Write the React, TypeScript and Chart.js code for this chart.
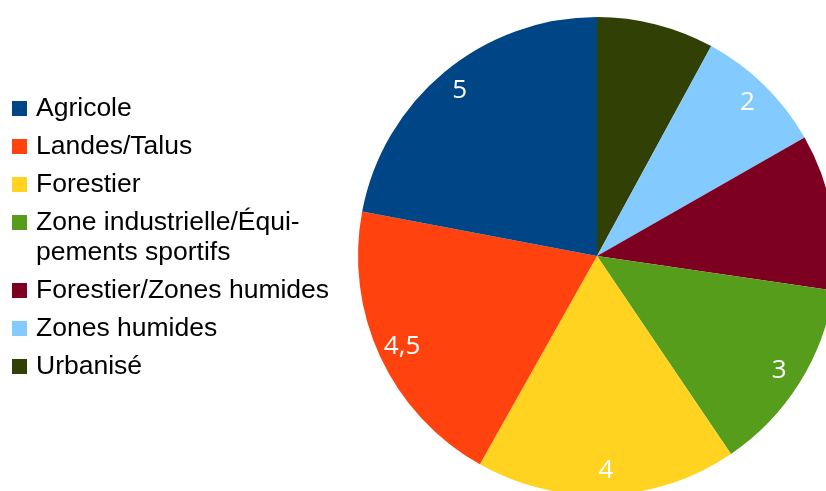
import React, { useEffect, useRef } from "react";
import { Chart, registerables } from "chart.js";

Chart.register(...registerables);

// Legend order (as in the reference)
const categories = [
  "Agricole",
  "Landes/Talus",
  "Forestier",
  "Zone industrielle/Équipements sportifs",
  "Forestier/Zones humides",
  "Zones humides",
  "Urbanisé",
];
const values = [5, 4.5, 4, 3, 2.4, 2, 1.8];
const sliceLabels = ["5", "4,5", "4", "3", "", "2", ""];
const legendLines = [
  ["Agricole"],
  ["Landes/Talus"],
  ["Forestier"],
  ["Zone industrielle/Équi-", "pements sportifs"],
  ["Forestier/Zones humides"],
  ["Zones humides"],
  ["Urbanisé"],
];
const colors = ["#004586", "#ff420e", "#ffd320", "#579d1c", "#7e0021", "#83caff", "#314004"];

export default function App() {
  const ref = useRef<HTMLCanvasElement | null>(null);

  useEffect(() => {
    if (!ref.current) return;
    // Pie in reference runs counter-clockwise from the top: reverse for Chart.js (clockwise)
    const order = categories.map((_, i) => i).reverse();

    const sliceLabelPlugin = {
      id: "sliceLabels",
      afterDatasetsDraw(chart: any) {
        const ctx = chart.ctx;
        const meta = chart.getDatasetMeta(0);
        ctx.save();
        ctx.fillStyle = "#ffffff";
        ctx.font = "26px 'Open Sans'";
        ctx.textAlign = "center";
        ctx.textBaseline = "middle";
        meta.data.forEach((arc: any, j: number) => {
          const idx = order[j];
          const text = sliceLabels[idx];
          if (!text) return;
          const p = arc.getProps(["x", "y", "startAngle", "endAngle", "outerRadius"], true);
          const mid = (p.startAngle + p.endAngle) / 2;
          const r = p.outerRadius * 0.9;
          ctx.fillText(text, p.x + Math.cos(mid) * r, p.y + Math.sin(mid) * r);
        });
        ctx.restore();
      },
    };

    const legendPlugin = {
      id: "customLegend",
      afterDraw(chart: any) {
        const ctx = chart.ctx;
        ctx.save();
        ctx.font = "26.5px 'Liberation Sans'";
        ctx.textAlign = "left";
        ctx.textBaseline = "alphabetic";
        let baseline = 116;
        legendLines.forEach((lines, i) => {
          ctx.fillStyle = colors[i];
          ctx.fillRect(12, baseline - 15, 15, 15);
          ctx.fillStyle = "#000000";
          lines.forEach((ln, k) => {
            ctx.fillText(ln, 36, baseline + k * 30);
          });
          baseline += (lines.length - 1) * 30 + 38;
        });
        ctx.restore();
      },
    };

    const chart = new Chart(ref.current, {
      type: "pie",
      data: {
        labels: order.map((i) => categories[i]),
        datasets: [
          {
            data: order.map((i) => values[i]),
            backgroundColor: order.map((i) => colors[i]),
            borderWidth: 0,
          },
        ],
      },
      options: {
        responsive: false,
        animation: false,
        devicePixelRatio: 1,
        layout: { padding: { left: 358, top: 17, right: 4, bottom: 5 } },
        plugins: {
          legend: { display: false },
          tooltip: { enabled: false },
        },
      },
      plugins: [sliceLabelPlugin, legendPlugin],
    });
    return () => chart.destroy();
  }, []);

  return (
    <div
      style={{
        position: "fixed",
        left: 0,
        top: 0,
        width: 826,
        height: 491,
        overflow: "hidden",
        background: "#ffffff",
      }}
    >
      <canvas ref={ref} width={840} height={500} style={{ display: "block" }} />
    </div>
  );
}
